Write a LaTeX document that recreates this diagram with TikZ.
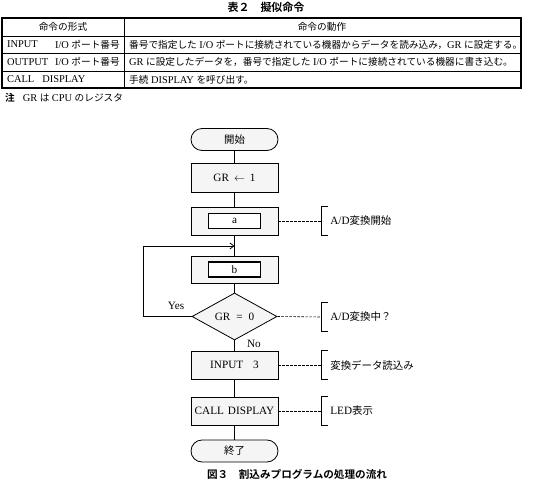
\documentclass[tikz,border=0pt]{standalone}
\usepackage{fontspec}
\setmainfont{Liberation Serif}
\newfontfamily\jp{Noto Sans CJK JP}[Scale=0.93,BoldFont={* Bold}]
\usetikzlibrary{shapes.geometric,arrows.meta}
\newcommand{\ks}{\hspace{2.5pt}}
\begin{document}
\begin{tikzpicture}[x=1pt,y=-1pt,
  every node/.style={font=\fontsize{10.4}{12}\selectfont, inner sep=0pt},
  ff/.style={font=\fontsize{11.2}{13}\selectfont},
  tline/.style={line width=0.8pt},
  proc/.style={ff, draw, line width=0.8pt, fill=black!4, minimum width=87pt, minimum height=28pt},
  term/.style={ff, draw, line width=0.8pt, fill=black!4, rounded corners=11pt, minimum width=87pt, minimum height=22pt},
  inner/.style={ff, draw, line width=1.8pt, fill=white, minimum width=52pt, minimum height=15pt},
  dec/.style={ff, draw, diamond, line width=0.8pt, fill=black!4, minimum width=85pt, minimum height=44pt},
  flow/.style={line width=0.8pt},
  ann/.style={dashed, dash pattern=on 2.5pt off 1.5pt, line width=0.6pt},
  brk/.style={minimum width=6pt, minimum height=28pt},
  brkline/.style={line width=0.8pt},
  antext/.style={ff, anchor=west}
]
\useasboundingbox (0,0) rectangle (536,484);

% ---------- Table ----------
\node[font=\fontsize{11.8}{13}\selectfont\jp\bfseries] (title) at (266,7) {表２　擬似命令};
\draw[line width=1.1pt] (2,18) rectangle (521,88);
\draw[tline] (2,36) -- (521,36);
\draw[tline] (2,53) -- (521,53);
\draw[tline] (2,71) -- (521,71);
\draw[tline] (124,18) -- (124,88);

\node (h1) at (63,27) {\jp 命令の形式};
\node (h2) at (322,27) {\jp 命令の動作};

\node[anchor=west] (r1a) at (7,44.5) {INPUT};
\node[anchor=east] (r1b) at (120,44.5) {I/O\ks{\jp ポート番号}};
\node[anchor=west] (r1c) at (129,44.5) {{\jp 番号で指定した}\ks I/O\ks{\jp ポートに接続されている機器からデータを読み込み，}GR\ks{\jp に設定する。}};

\node[anchor=west] (r2a) at (7,62) {OUTPUT};
\node[anchor=east] (r2b) at (120,62) {I/O\ks{\jp ポート番号}};
\node[anchor=west] (r2c) at (129,62) {GR\ks{\jp に設定したデータを，番号で指定した}\ks I/O\ks{\jp ポートに接続されている機器に書き込む。}};

\node[anchor=west] (r3a) at (7,79.5) {CALL\hspace{8pt}DISPLAY};
\node[anchor=west] (r3c) at (129,79.5) {{\jp 手続}\ks DISPLAY\ks{\jp を呼び出す。}};

\node[anchor=west] (note) at (5,97.5) {{\jp\bfseries 注}\hspace{8pt}GR\ks{\jp は}\ks CPU\ks{\jp のレジスタ}};

% ---------- Flowchart ----------
\node[term] (start) at (234.5,139.5) {\jp 開始};
\node[proc, minimum height=29pt] (gr) at (234.5,177.5) {GR\hspace{5pt}$\leftarrow$\hspace{5pt}1};
\node[proc] (boxa) at (234.5,221) {};
\node[inner] (ina) at (boxa.center) {a};
\node[proc, minimum height=27pt] (boxb) at (234.5,269.5) {};
\node[inner] (inb) at (boxb.center) {b};
\node[dec] (cond) at (234.5,316.5) {GR\hspace{6pt}=\hspace{6pt}0};
\node[proc] (inp) at (234.5,365) {INPUT\hspace{10pt}3};
\node[proc] (call) at (234.5,411) {CALL\hspace{4pt}DISPLAY};
\node[term] (fin) at (234.5,451) {\jp 終了};

\coordinate (mj) at (234.5,246);
\coordinate (lp) at (143,246);

\draw[flow] (start) -- (gr);
\draw[flow] (gr) -- (boxa);
\draw[flow] (boxa) -- (boxb);
\draw[flow] (boxb) -- (cond);
\draw[flow] (cond) -- (inp);
\draw[flow] (inp) -- (call);
\draw[flow] (call) -- (fin);
\draw[flow, -{Straight Barb[length=4pt,width=6pt]}] (cond.west) -| (lp) -- (mj);

\node[ff] (yes) at (176,306) {Yes};
\node[ff] (no) at (254,343.5) {No};

% ---------- Annotations ----------
\node[brk] (ba) at (325,221) {};
\node[brk] (bb) at (325,317) {};
\node[brk] (bc) at (325,365) {};
\node[brk] (bd) at (325,411) {};
\foreach \b in {ba,bb,bc,bd}{
  \draw[brkline] (\b.north east) -- (\b.north west) -- (\b.south west) -- (\b.south east);
}
\draw[ann] (boxa.east) -- (ba.west);
\draw[ann] (cond.east) -- (bb.west);
\draw[ann] (inp.east) -- (bc.west);
\draw[ann] (call.east) -- (bd.west);

\node[antext] (ta) at ([xshift=2pt]ba.east) {A/D{\jp 変換開始}};
\node[antext] (tb) at ([xshift=2pt]bb.east) {A/D{\jp 変換中？}};
\node[antext] (tc) at ([xshift=2pt]bc.east) {\jp 変換データ読込み};
\node[antext] (td) at ([xshift=2pt]bd.east) {LED{\jp 表示}};

\node[font=\fontsize{11.4}{13}\selectfont\jp\bfseries] (cap) at (297,474) {図３　割込みプログラムの処理の流れ};
\end{tikzpicture}
\end{document}
